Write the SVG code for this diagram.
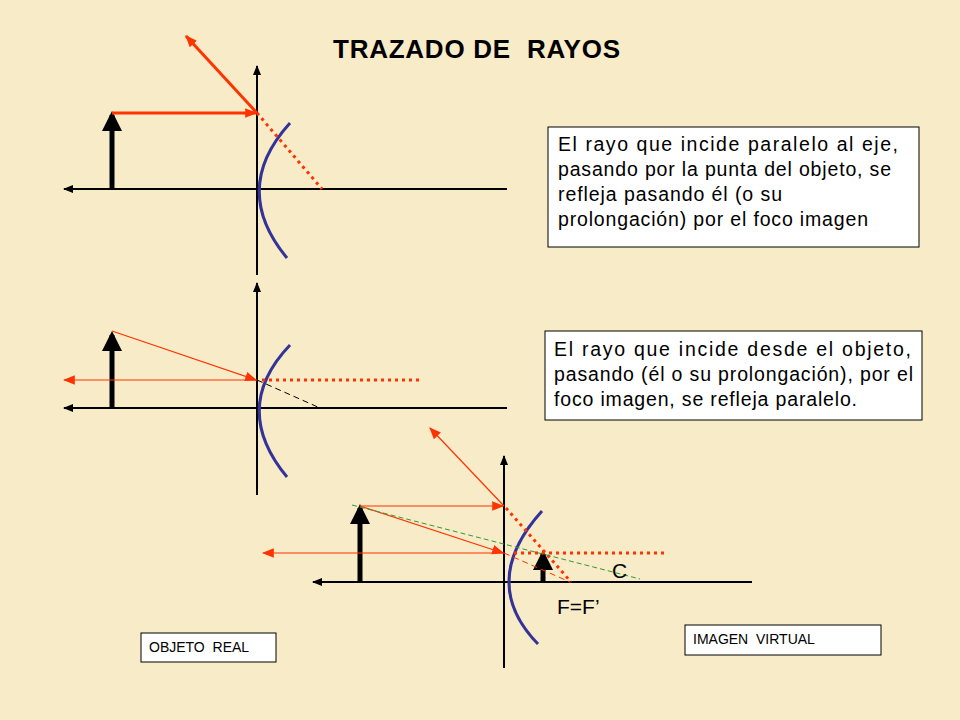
<svg xmlns="http://www.w3.org/2000/svg" width="960" height="720" viewBox="0 0 960 720">
<defs>
<marker id="ab" viewBox="0 0 10 10" refX="9" refY="5" markerWidth="10" markerHeight="10" markerUnits="userSpaceOnUse" orient="auto"><path d="M0,1 L10,5 L0,9 Z" fill="#000"/></marker>
<marker id="ar" viewBox="0 0 10 10" refX="9" refY="5" markerWidth="12" markerHeight="12" markerUnits="userSpaceOnUse" orient="auto"><path d="M0,1 L10,5 L0,9 Z" fill="#ff3300"/></marker>
<marker id="ao" viewBox="0 0 10 10" refX="8" refY="5" markerWidth="20" markerHeight="24" markerUnits="userSpaceOnUse" orient="auto"><path d="M0,0 L10,5 L0,10 Z" fill="#000"/></marker>
</defs>
<style>
.ax{stroke:#000;stroke-width:2;fill:none}
.ob{stroke:#000;stroke-width:5;fill:none}
.mi{stroke:#333399;stroke-width:3;fill:none}
.rt{stroke:#ff3300;stroke-width:3;fill:none}
.rn{stroke:#ff3300;stroke-width:1.2;fill:none}
.dot{stroke:#ff3300;stroke-width:3;stroke-dasharray:3 4;fill:none}
.box{fill:#fff;stroke:#000;stroke-width:1}
text{font-family:"Liberation Sans",Arial,sans-serif;fill:#000}
.t{font-size:19.5px}
.s{font-size:14px}
</style>
<rect width="960" height="720" fill="#f8ebc8"/>
<text x="333" y="58" font-size="26" font-weight="bold" textLength="287" lengthAdjust="spacing">TRAZADO DE&#160; RAYOS</text>
<g id="diagram1">
<line class="ax" x1="507" y1="189" x2="64" y2="189" marker-end="url(#ab)"/>
<line class="ax" x1="257" y1="275" x2="257" y2="66" marker-end="url(#ab)"/>
<path class="mi" d="M290,123 Q230,189 287,258"/>
<line class="ob" x1="112" y1="189" x2="112" y2="115" marker-end="url(#ao)"/>
<line class="rt" x1="112" y1="113" x2="256" y2="113" marker-end="url(#ar)"/>
<line class="rt" x1="257" y1="113" x2="186" y2="36" marker-end="url(#ar)"/>
<line class="dot" x1="257" y1="113" x2="322" y2="189"/>
</g>
<g id="diagram2">
<line class="ax" x1="507" y1="408" x2="64" y2="408" marker-end="url(#ab)"/>
<line class="ax" x1="257" y1="495" x2="257" y2="283" marker-end="url(#ab)"/>
<path class="mi" d="M290,345 Q230,408 287,477"/>
<line class="ob" x1="112" y1="408" x2="112" y2="335" marker-end="url(#ao)"/>
<line class="rn" x1="112" y1="331" x2="256" y2="380" marker-end="url(#ar)"/>
<line class="rn" x1="257" y1="380" x2="64" y2="380" marker-end="url(#ar)"/>
<line class="dot" x1="262" y1="380" x2="420" y2="380"/>
<line x1="257" y1="380" x2="320" y2="408" stroke="#000" stroke-width="1" stroke-dasharray="6 4"/>
</g>
<g id="diagram3">
<line class="ax" x1="752" y1="582" x2="313" y2="582" marker-end="url(#ab)"/>
<line class="ax" x1="504" y1="668" x2="504" y2="456" marker-end="url(#ab)"/>
<path class="mi" d="M542,511 Q478,582 538,644"/>
<line class="ob" x1="360" y1="582" x2="360" y2="508" marker-end="url(#ao)"/>
<line class="ob" x1="543" y1="582" x2="543" y2="554" marker-end="url(#ao)"/>
<line class="rn" x1="360" y1="506" x2="503" y2="506" marker-end="url(#ar)"/>
<line class="rn" x1="504" y1="506" x2="430" y2="428" marker-end="url(#ar)"/>
<line class="dot" x1="506" y1="508" x2="571" y2="582"/>
<line class="rn" x1="360" y1="506" x2="503" y2="553" marker-end="url(#ar)"/>
<line x1="504" y1="553" x2="570" y2="582" stroke="#ff3300" stroke-width="1" stroke-dasharray="6 4"/>
<line class="rn" x1="504" y1="553" x2="263" y2="553" marker-end="url(#ar)"/>
<line class="dot" x1="514" y1="553" x2="668" y2="553"/>
<line x1="352" y1="505" x2="640" y2="579" stroke="#339933" stroke-width="1" stroke-dasharray="5 3"/>
<text x="612" y="578" font-size="21">C</text>
<text x="557" y="614" font-size="21">F=F’</text>
</g>
<g id="box1">
<rect class="box" x="548" y="127" width="371" height="120"/>
<text class="t" x="558" y="151" textLength="340" lengthAdjust="spacing">El rayo que incide paralelo al eje,</text>
<text class="t" x="558" y="176" textLength="333" lengthAdjust="spacing">pasando por la punta del objeto, se</text>
<text class="t" x="558" y="201" textLength="224" lengthAdjust="spacing">refleja pasando él (o su</text>
<text class="t" x="558" y="226" textLength="310" lengthAdjust="spacing">prolongación) por el foco imagen</text>
</g>
<g id="box2">
<rect class="box" x="545" y="331" width="377" height="89"/>
<text class="t" x="554" y="356" textLength="357" lengthAdjust="spacing">El rayo que incide desde el objeto,</text>
<text class="t" x="554" y="381" textLength="359" lengthAdjust="spacing">pasando (él o su prolongación), por el</text>
<text class="t" x="554" y="406" textLength="303" lengthAdjust="spacing">foco imagen, se refleja paralelo.</text>
</g>
<g id="box3">
<rect class="box" x="141" y="633" width="135" height="29"/>
<text class="s" x="149" y="652">OBJETO&#160; REAL</text>
</g>
<g id="box4">
<rect class="box" x="685" y="625" width="196" height="30"/>
<text class="s" x="693" y="644">IMAGEN&#160; VIRTUAL</text>
</g>
</svg>
